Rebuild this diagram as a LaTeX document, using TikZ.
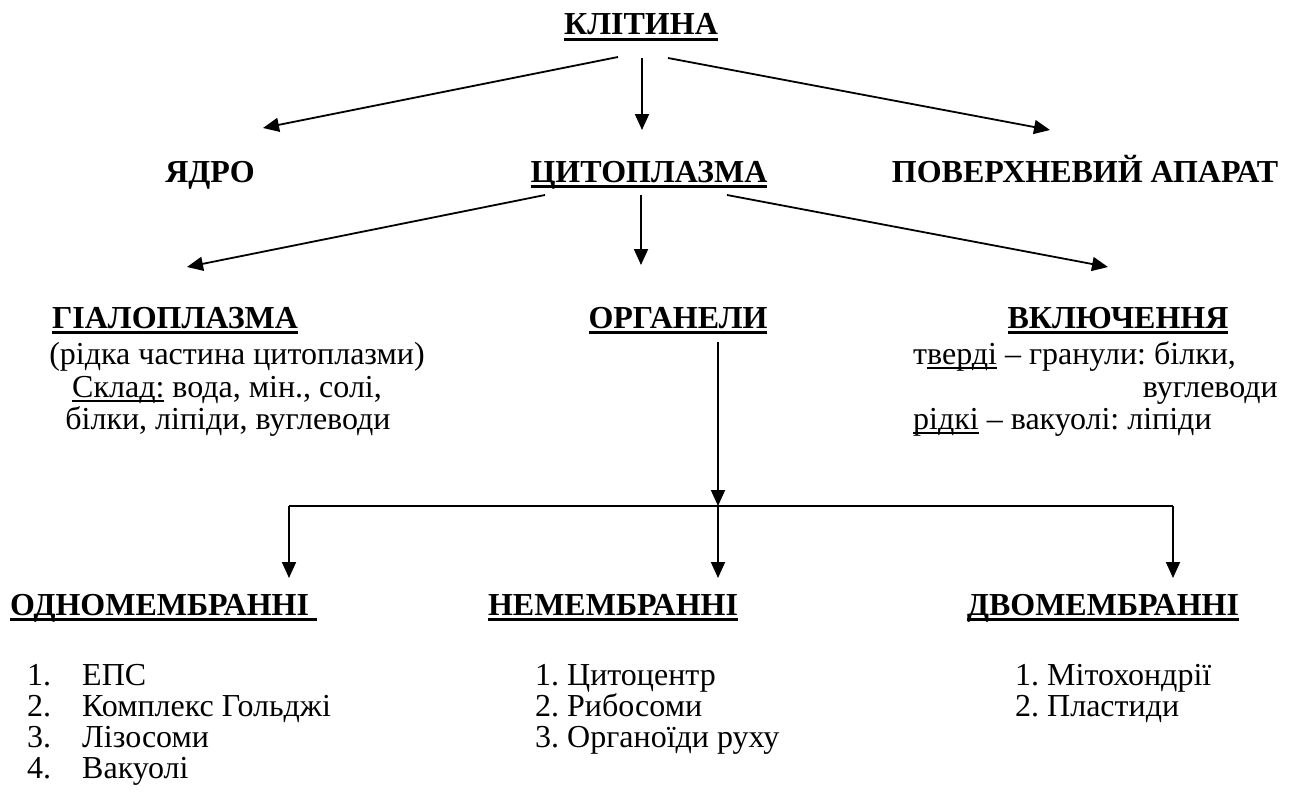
\documentclass[tikz,border=0pt]{standalone}
\usepackage{fontspec}
\setmainfont{Liberation Serif}
\newfontfamily\tnr{Liberation Serif}
\usetikzlibrary{arrows.meta}
\newcommand\ulb[2][0pt]{\setbox0\hbox{#2}\rlap{\rule[-5.6pt]{\dimexpr\wd0+#1\relax}{2.6pt}}\box0\relax}
\newcommand\ulr[1]{\setbox0\hbox{#1}\rlap{\rule[-4.6pt]{\wd0}{1.5pt}}\box0\relax}
\begin{document}
\frenchspacing
\begin{tikzpicture}[x=1pt,y=-1pt,
  every node/.style={inner sep=0pt},
  head/.style={font=\tnr\frenchspacing\fontsize{32}{37}\selectfont\bfseries, anchor=base},
  txt/.style={font=\tnr\frenchspacing\fontsize{32}{37}\selectfont, anchor=base},
  txtl/.style={font=\tnr\frenchspacing\fontsize{32}{37}\selectfont, anchor=base west},
  txtr/.style={font=\tnr\frenchspacing\fontsize{32}{37}\selectfont, anchor=base east},
  arr/.style={line width=1.8pt, -{Triangle[length=16pt,width=14pt]}},
  ln/.style={line width=1.6pt}]
\fill[white] (0,0) rectangle (1296,800);
\useasboundingbox (0,0) rectangle (1296,800);

% level 1
\node[head] (klit) at (641,35) {\ulb{КЛІТИНА}};
% level 2
\node[head] (yadro) at (210,182) {ЯДРО};
\node[head] (cyto) at (649,182) {\ulb{ЦИТОПЛАЗМА}};
\node[head] (pov) at (1085,182) {ПОВЕРХНЕВИЙ АПАРАТ};
% level 3
\node[head] (gial) at (175,328) {\ulb{ГІАЛОПЛАЗМА}};
\node[txt] (gial1) at (237,364) {(рідка частина цитоплазми)};
\node[txt] (gial2) at (227,397) {\ulr{Склад:} вода, мін., солі,};
\node[txt] (gial3) at (228,429) {білки, ліпіди, вуглеводи};
\node[head] (org) at (678,328) {\ulb{ОРГАНЕЛИ}};
\node[head] (vkl) at (1118,328) {\ulb{ВКЛЮЧЕННЯ}};
\node[txtl] (vkl1) at (913,364) {т\ulr{верді} – гранули: білки,};
\node[txtr] (vkl2) at (1278,397) {вуглеводи};
\node[txtl] (vkl3) at (913,429) {\ulr{рідкі} – вакуолі: ліпіди};
% level 4
\node[head, anchor=base west] (odno) at (10,615) {\ulb[8pt]{ОДНОМЕМБРАННІ}};
\node[head] (nemem) at (613,615) {\ulb{НЕМЕМБРАННІ}};
\node[head] (dvomem) at (1103,615) {\ulb{ДВОМЕМБРАННІ}};
% lists
\node[txtl] (o1n) at (27,685) {1.};
\node[txtl] (o1) at (82,685) {ЕПС};
\node[txtl] (o2n) at (27,716) {2.};
\node[txtl] (o2) at (82,716) {Комплекс Гольджі};
\node[txtl] (o3n) at (27,747) {3.};
\node[txtl] (o3) at (82,747) {Лізосоми};
\node[txtl] (o4n) at (27,778) {4.};
\node[txtl] (o4) at (82,778) {Вакуолі};
\node[txtl] (n1) at (535,685) {1. Цитоцентр};
\node[txtl] (n2) at (535,716) {2. Рибосоми};
\node[txtl] (n3) at (535,747) {3. Органоїди руху};
\node[txtl] (d1) at (1015,685) {1. Мітохондрії};
\node[txtl] (d2) at (1015,716) {2. Пластиди};

% connector ends
\coordinate (kL) at (618,57);  \coordinate (kM) at (642,58);  \coordinate (kR) at (668,58);
\coordinate (yT) at (263,128); \coordinate (cT) at (642,130); \coordinate (pT) at (1050,130);
\coordinate (cL) at (545,195); \coordinate (cM) at (641,195); \coordinate (cR) at (727,195);
\coordinate (gT) at (187,267); \coordinate (oT) at (641,265); \coordinate (vT) at (1108,267);
\coordinate (oS) at (718,342); \coordinate (jM) at (718,506);
\coordinate (jL) at (289,506); \coordinate (jR) at (1173,506);
\coordinate (aL) at (289,578); \coordinate (aM) at (718,578); \coordinate (aR) at (1173,578);

\draw[arr] (kL) -- (yT);
\draw[arr] (kM) -- (cT);
\draw[arr] (kR) -- (pT);
\draw[arr] (cL) -- (gT);
\draw[arr] (cM) -- (oT);
\draw[arr] (cR) -- (vT);
\draw[arr] (oS) -- (jM);
\draw[ln] (jL) -- (jR);
\draw[arr] (jL) -- (aL);
\draw[arr] (jM) -- (aM);
\draw[arr] (jR) -- (aR);
\end{tikzpicture}
\end{document}
